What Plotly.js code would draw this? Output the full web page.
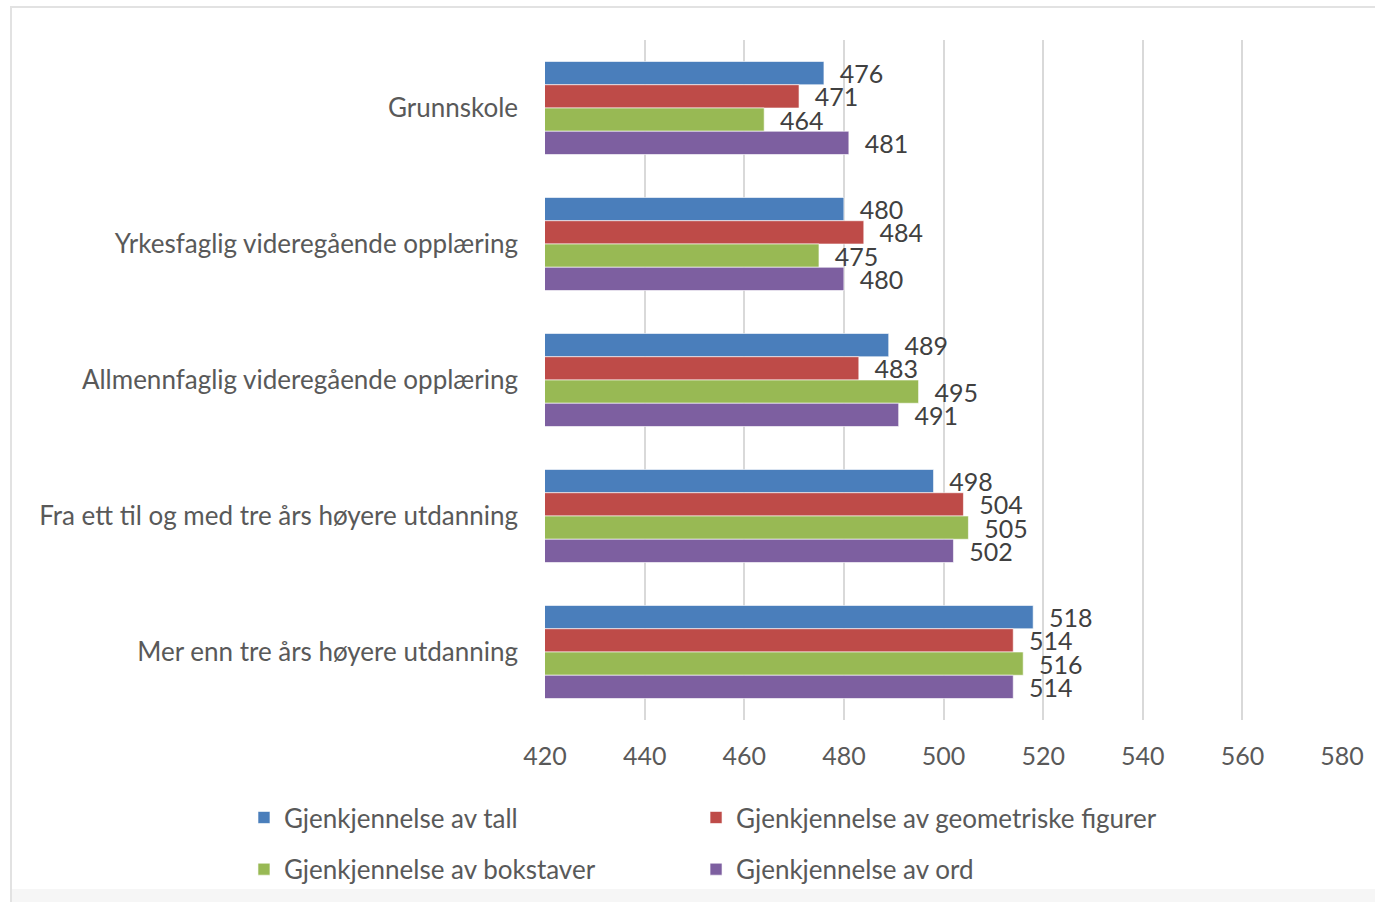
<!DOCTYPE html>
<html>
<head>
<meta charset="utf-8">
<script src="https://cdn.plot.ly/plotly-3.0.1.min.js"></script>
<style>
  html, body { margin: 0; padding: 0; background: #ffffff; }
  #wrap { position: relative; width: 1375px; height: 902px; overflow: hidden; }
  #frame { position: absolute; left: 10px; top: 6px; width: 1400px; height: 900px;
           border-top: 2px solid #e2e2e2; border-left: 2px solid #e2e2e2; }
  #band { position: absolute; left: 12px; top: 889px; width: 1400px; height: 20px; background: #f6f6f6; }
  #chart { position: absolute; left: 0; top: 0; width: 1375px; height: 902px; }
</style>
</head>
<body>
<div id="wrap">
  <div id="frame"></div>
  <div id="band"></div>
  <div id="chart"></div>
</div>
<script>
const categories = [
  "Grunnskole",
  "Yrkesfaglig videregående opplæring",
  "Allmennfaglig videregående opplæring",
  "Fra ett til og med tre års høyere utdanning",
  "Mer enn tre års høyere utdanning"
];
const seriesNames = [
  "Gjenkjennelse av tall",
  "Gjenkjennelse av geometriske figurer",
  "Gjenkjennelse av bokstaver",
  "Gjenkjennelse av ord"
];
const tall = [476, 480, 489, 498, 518];
const geometriske = [471, 484, 483, 504, 514];
const bokstaver = [464, 475, 495, 505, 516];
const ord = [481, 480, 491, 502, 514];
const xTicks = [420, 440, 460, 480, 500, 520, 540, 560, 580];

const colors = ["#4A7EBB", "#BE4B48", "#98B954", "#7D5FA0"];
const seriesValues = [tall, geometriske, bokstaver, ord];
const FONT = "Lato, 'Open Sans', sans-serif";
const legendIds = ["legend", "legend2", "legend3", "legend4"];

const traces = seriesValues.map((vals, i) => ({
  type: "bar",
  orientation: "h",
  name: seriesNames[i],
  x: vals,
  y: categories,
  marker: { color: colors[i], line: { color: "rgba(255,255,255,0.6)", width: 1 } },
  text: vals.map(v => String(v)),
  texttemplate: "\u00a0\u00a0%{text}",
  textposition: "outside",
  constraintext: "none",
  cliponaxis: false,
  textfont: { family: FONT, size: 25, color: "#404040" },
  hoverinfo: "x+name",
  legend: legendIds[i]
}));

function legendAt(x, y) {
  return {
    orientation: "h",
    xanchor: "left",
    yanchor: "middle",
    x: x,
    y: y,
    font: { family: FONT, size: 26, color: "#595959" },
    bgcolor: "rgba(0,0,0,0)",
    itemclick: false,
    itemdoubleclick: false
  };
}

const colL = -0.3777, colR = 0.1895, rowT = -0.1435, rowB = -0.2195;

const layout = {
  width: 1375,
  height: 902,
  margin: { l: 545, r: 33, t: 40, b: 182, autoexpand: false },
  paper_bgcolor: "rgba(0,0,0,0)",
  plot_bgcolor: "rgba(0,0,0,0)",
  barmode: "group",
  bargap: 0.316,
  bargroupgap: 0,
  showlegend: true,
  font: { family: FONT, size: 25, color: "#595959" },
  xaxis: {
    range: [420, 580],
    tickvals: xTicks,
    ticktext: xTicks.map(String),
    showgrid: true,
    gridcolor: "#d9d9d9",
    gridwidth: 2,
    zeroline: false,
    showline: false,
    ticks: "",
    ticklabelstandoff: 19,
    tickfont: { family: FONT, size: 25, color: "#595959" },
    fixedrange: true
  },
  yaxis: {
    type: "category",
    autorange: "reversed",
    showgrid: false,
    zeroline: false,
    showline: false,
    ticks: "",
    ticklabelstandoff: 26,
    tickfont: { family: FONT, size: 26, color: "#595959" },
    fixedrange: true
  },
  legend: legendAt(colL, rowT),
  legend2: legendAt(colR, rowT),
  legend3: legendAt(colL, rowB),
  legend4: legendAt(colR, rowB)
};

Plotly.newPlot("chart", traces, layout, { displayModeBar: false, staticPlot: true });
</script>
</body>
</html>
